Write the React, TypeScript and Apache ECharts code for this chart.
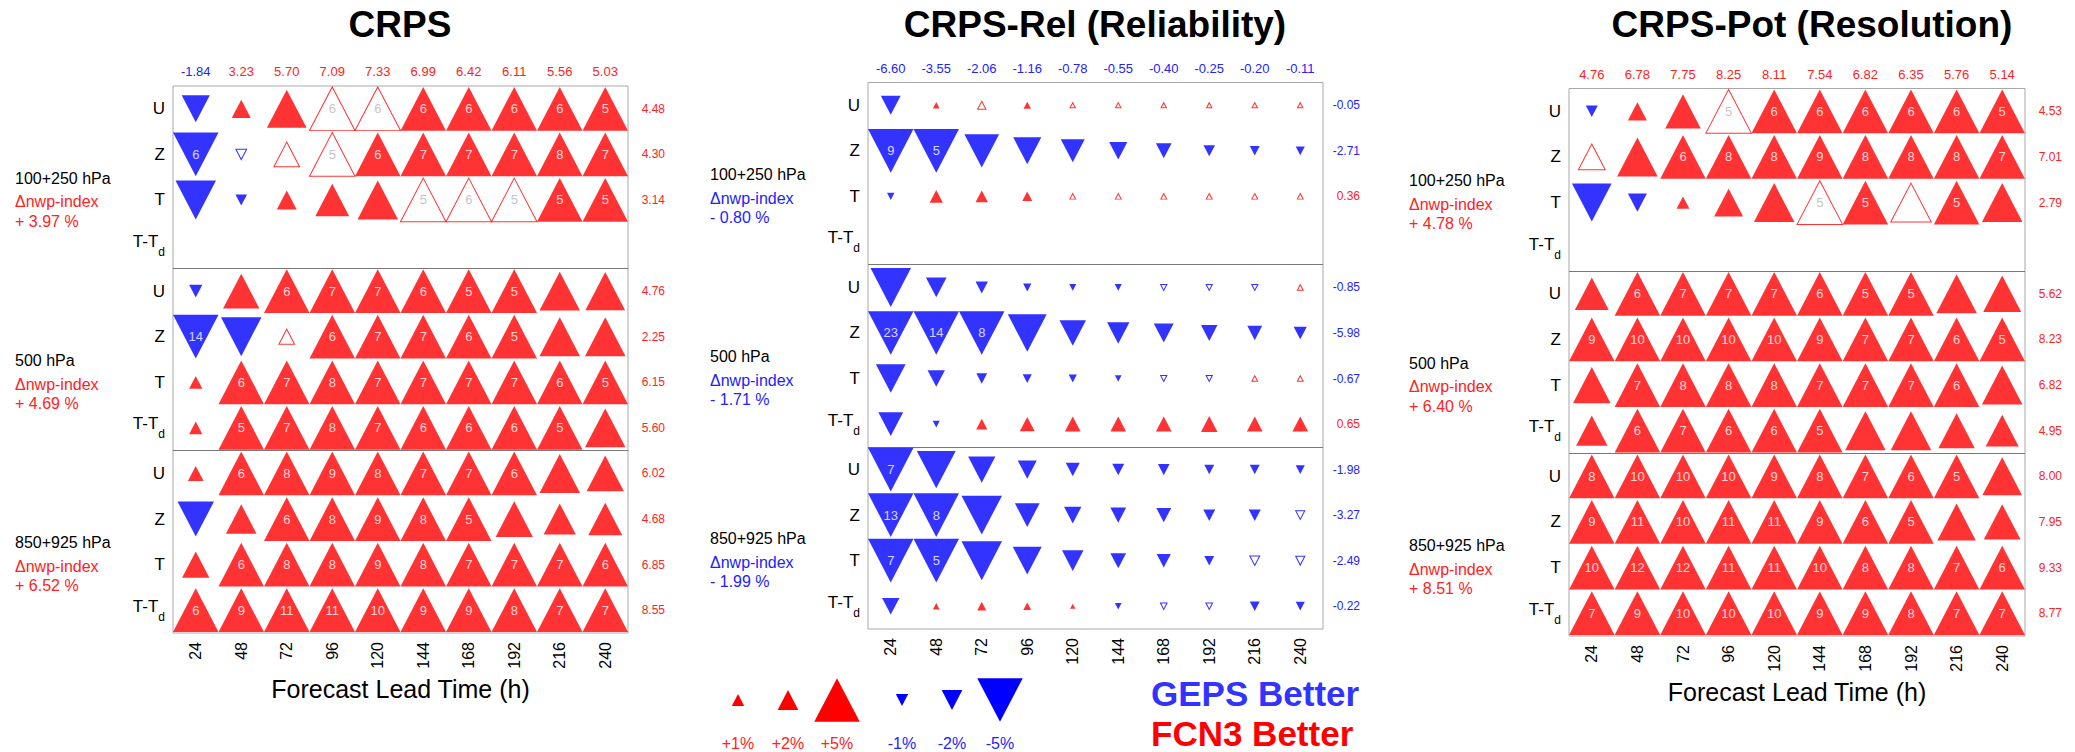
import React, { useEffect, useRef } from 'react';
import * as echarts from 'echarts';

// ---------------- DATA ----------------
const leadTimes = ['24', '48', '72', '96', '120', '144', '168', '192', '216', '240'];
const rowNames = ['U', 'Z', 'T', 'T-Td', 'U', 'Z', 'T', 'T-Td', 'U', 'Z', 'T', 'T-Td'];
const blockNames = ['100+250 hPa', '500 hPa', '850+925 hPa'];

// CRPS
const crpsTop = [-1.84, 3.23, 5.70, 7.09, 7.33, 6.99, 6.42, 6.11, 5.56, 5.03];
const crpsRight = [4.48, 4.30, 3.14, null, 4.76, 2.25, 6.15, 5.60, 6.02, 4.68, 6.85, 8.55];
const crpsIndex = [3.97, 4.69, 6.52];
const crps100_250 = [
  [-2.9, 1.8, 4.3, 6, 6, 6, 6, 6, 6, 5],
  [-6, -0.8, 2.6, 5, 6, 7, 7, 7, 8, 7],
  [-4.4, -0.9, 1.9, 3.6, 4.4, 5, 6, 5, 5, 5],
];
const crps500 = [
  [-1.1, 3.9, 6, 7, 7, 6, 5, 5, 4.4, 4.3],
  [-14, -4.4, 1.4, 6, 7, 7, 6, 5, 4.4, 4.4],
  [1.1, 6, 7, 8, 7, 7, 7, 7, 6, 5],
  [1.1, 5, 7, 8, 7, 6, 6, 6, 5, 4.4],
];
const crps850_925 = [
  [1.4, 6, 8, 9, 8, 7, 7, 6, 4.4, 4.0],
  [-3.9, 3.2, 6, 8, 9, 8, 5, 4.0, 3.4, 3.6],
  [2.8, 6, 8, 8, 9, 8, 7, 7, 7, 6],
  [6, 9, 11, 11, 10, 9, 9, 8, 7, 7],
];
const crpsHollow = [[0, 3], [0, 4], [1, 1], [1, 2], [1, 3], [2, 5], [2, 6], [2, 7], [5, 2]];

// CRPS-Rel
const relTop = [-6.60, -3.55, -2.06, -1.16, -0.78, -0.55, -0.40, -0.25, -0.20, -0.11];
const relRight = [-0.05, -2.71, 0.36, null, -0.85, -5.98, -0.67, 0.65, -1.98, -3.27, -2.49, -0.22];
const relIndex = [-0.80, -1.71, -1.99];
const rel100_250 = [
  [-1.9, 0.3, 0.5, 0.4, 0.15, 0.15, 0.15, 0.15, 0.15, 0.15],
  [-9, -5, -3.7, -2.9, -2.4, -1.7, -1.4, -0.9, -0.7, -0.6],
  [-0.4, 1.1, 1.0, 0.7, 0.2, 0.2, 0.2, 0.2, 0.2, 0.2],
];
const rel500 = [
  [-4.4, -2.0, -1.0, -0.5, -0.35, -0.35, -0.25, -0.25, -0.25, 0.2],
  [-23, -14, -8, -4.2, -2.7, -2.2, -1.9, -1.5, -1.3, -1.1],
  [-3.1, -1.6, -0.8, -0.6, -0.5, -0.3, -0.25, -0.25, 0.2, 0.2],
  [-2.5, -0.35, 0.85, 1.3, 1.4, 1.4, 1.4, 1.5, 1.4, 1.4],
];
const rel850_925 = [
  [-7, -4.2, -2.8, -1.8, -1.2, -0.95, -0.9, -0.7, -0.7, -0.6],
  [-13, -8, -4.4, -2.5, -1.6, -1.4, -1.3, -0.95, -0.95, -0.6],
  [-7, -5, -4.4, -3.0, -2.1, -1.4, -1.2, -0.7, -0.7, -0.6],
  [-1.6, 0.3, 0.6, 0.45, 0.15, -0.3, -0.3, -0.3, -0.7, -0.6],
];
const relHollow = [
  [0, 2], [0, 4], [0, 5], [0, 6], [0, 7], [0, 8], [0, 9],
  [2, 4], [2, 5], [2, 6], [2, 7], [2, 8], [2, 9],
  [4, 6], [4, 7], [4, 8], [4, 9],
  [6, 6], [6, 7], [6, 8], [6, 9],
  [9, 9], [10, 8], [10, 9], [11, 6], [11, 7],
];

// CRPS-Pot
const potTop = [4.76, 6.78, 7.75, 8.25, 8.11, 7.54, 6.82, 6.35, 5.76, 5.14];
const potRight = [4.53, 7.01, 2.79, null, 5.62, 8.23, 6.82, 4.95, 8.00, 7.95, 9.33, 8.77];
const potIndex = [4.78, 6.40, 8.51];
const pot100_250 = [
  [-0.95, 1.8, 3.8, 5, 6, 6, 6, 6, 6, 5],
  [2.75, 4.4, 6, 8, 8, 9, 8, 8, 8, 7],
  [-4.3, -1.8, 1.05, 3.0, 4.4, 5, 5, 4.4, 5, 4.4],
];
const pot500 = [
  [3.6, 6, 7, 7, 7, 6, 5, 5, 4.4, 4.1],
  [9, 10, 10, 10, 10, 9, 7, 7, 6, 5],
  [4.05, 7, 8, 8, 8, 7, 7, 7, 6, 4.4],
  [3.3, 6, 7, 6, 6, 5, 4.4, 4.4, 3.9, 3.5],
];
const pot850_925 = [
  [8, 10, 10, 10, 9, 8, 7, 6, 5, 4.3],
  [9, 11, 10, 11, 11, 9, 6, 5, 4.15, 3.95],
  [10, 12, 12, 11, 11, 10, 8, 8, 7, 6],
  [7, 9, 10, 10, 10, 9, 9, 8, 7, 7],
];
const potHollow = [[0, 3], [1, 0], [2, 5], [2, 7]];

const legendValues = [1, 2, 5, -1, -2, -5];

// ---------------- STYLE / LAYOUT ----------------
const FONT = '"Liberation Sans", Arial, Helvetica, sans-serif';
const RED = '#ff0000';
const BLUE = '#0000ff';
const TEXT_RED = '#ff2222';
const TEXT_BLUE = '#2222ff';
const DOWN = 'path://M0,0L10,0L5,10Z';
const CELL = 45.5;

function triSize(v: number): [number, number] {
  const a = Math.min(Math.abs(v), 5);
  const w = (CELL * (a + 0.5)) / 5.5;
  return [w, w * 0.96];
}
const signColor = (v: number) => (v < 0 ? TEXT_BLUE : TEXT_RED);
const fmtIndex = (v: number) => (v < 0 ? '- ' : '+ ') + Math.abs(v).toFixed(2) + ' %';

const panels = [
  { title: 'CRPS', top: crpsTop, right: crpsRight, index: crpsIndex, blocks: [crps100_250, crps500, crps850_925], hollow: crpsHollow,
    layout: { left: 173, top: 86, width: 455, height: 547, titleX: 400, labelX: 15, axisName: true } },
  { title: 'CRPS-Rel (Reliability)', top: relTop, right: relRight, index: relIndex, blocks: [rel100_250, rel500, rel850_925], hollow: relHollow,
    layout: { left: 868, top: 82.5, width: 455, height: 546.5, titleX: 1095, labelX: 710, axisName: false } },
  { title: 'CRPS-Pot (Resolution)', top: potTop, right: potRight, index: potIndex, blocks: [pot100_250, pot500, pot850_925], hollow: potHollow,
    layout: { left: 1569, top: 88.5, width: 456, height: 547.5, titleX: 1812, labelX: 1409, axisName: true } },
];

function buildOption() {
  const grid: any[] = [];
  const xAxis: any[] = [];
  const yAxis: any[] = [];
  const series: any[] = [];
  const graphic: any[] = [];

  panels.forEach((p, pi) => {
    const L = p.layout;
    grid.push({ left: L.left, top: L.top, width: L.width, height: L.height, show: true, borderColor: '#a8a8a8', borderWidth: 1, backgroundColor: '#fff' });
    xAxis.push({
      type: 'category', gridIndex: pi, position: 'bottom', data: leadTimes,
      axisLine: { show: false }, axisTick: { show: false }, splitLine: { show: false },
      axisLabel: { interval: 0, rotate: 90, margin: 9, fontSize: 16, color: '#000', fontFamily: FONT },
      name: L.axisName ? 'Forecast Lead Time (h)' : '', nameLocation: 'middle', nameGap: 40,
      nameTextStyle: { fontSize: 25, color: '#000', fontFamily: FONT },
    });
    xAxis.push({
      type: 'category', gridIndex: pi, position: 'top', data: p.top.map((v) => v.toFixed(2)),
      axisLine: { show: false }, axisTick: { show: false }, splitLine: { show: false },
      axisLabel: { interval: 0, margin: 8, fontSize: 13, fontFamily: FONT, color: (val: string) => signColor(parseFloat(val)) },
    });
    yAxis.push({
      type: 'category', gridIndex: pi, position: 'left', inverse: true, data: rowNames,
      axisLine: { show: false }, axisTick: { show: false }, splitLine: { show: false },
      axisLabel: {
        interval: 0, margin: 8, fontFamily: FONT,
        formatter: (v: string) => (v === 'T-Td' ? '{mt|T-T}{s|d}' : '{m|' + v + '}'),
        rich: {
          m: { fontSize: 17, color: '#000', fontFamily: FONT },
          mt: { fontSize: 17, color: '#000', fontFamily: FONT, verticalAlign: 'top' },
          s: { fontSize: 12, color: '#000', fontFamily: FONT, verticalAlign: 'top', padding: [13, 0, 0, 0] },
        },
      },
    });
    yAxis.push({
      type: 'category', gridIndex: pi, position: 'right', inverse: true,
      data: p.right.map((v) => (v == null ? '' : v.toFixed(2))),
      axisLine: { show: false }, axisTick: { show: false }, splitLine: { show: false },
      axisLabel: { interval: 0, align: 'right', margin: 37, fontSize: 12, fontFamily: FONT, color: (val: string) => signColor(parseFloat(val)) },
    });
    yAxis.push({
      type: 'value', gridIndex: pi, min: 0, max: 12, interval: 4, inverse: true,
      axisLine: { show: false }, axisTick: { show: false }, axisLabel: { show: false },
      splitLine: { show: true, showMinLine: false, showMaxLine: false, lineStyle: { color: '#777', width: 1 } },
    });

    const rows: (number[] | null)[] = [...p.blocks[0], null, ...p.blocks[1], ...p.blocks[2]];
    const hollowSet = new Set(p.hollow.map(([r, c]) => r * 10 + c));
    const marks: any[] = [];
    const numbers: any[] = [];
    rows.forEach((row, r) => {
      if (!row) return;
      row.forEach((v, c) => {
        const hollow = hollowSet.has(r * 10 + c);
        const col = v < 0 ? BLUE : RED;
        const n = Math.round(Math.abs(v));
        marks.push({
          value: [c, r],
          symbol: v < 0 ? DOWN : 'triangle',
          symbolSize: triSize(v),
          itemStyle: hollow ? { color: '#fff', borderColor: col, borderWidth: 1 } : { color: col, borderWidth: 0 },
        });
        if (n >= 5) {
          numbers.push({
            value: [c, r],
            label: { formatter: String(n), color: hollow ? '#b5b5b5' : '#fff' },
          });
        }
      });
    });
    series.push({
      type: 'scatter', xAxisIndex: pi * 2, yAxisIndex: pi * 3, data: marks, silent: true, z: 2,
    });
    series.push({
      type: 'scatter', xAxisIndex: pi * 2, yAxisIndex: pi * 3, data: numbers, silent: true, z: 3,
      symbol: 'circle', symbolSize: 1, itemStyle: { color: 'rgba(0,0,0,0)' },
      label: { show: true, position: 'inside', fontSize: 13, fontFamily: FONT, lineHeight: 13 },
    });

    // title
    graphic.push({
      type: 'text', x: L.titleX, y: 24,
      style: { text: p.title, fill: '#000', fontSize: 37, fontWeight: 'bold', fontFamily: FONT,
        align: 'center', verticalAlign: 'middle', textAlign: 'center', textVerticalAlign: 'middle' },
    });
    // block labels
    const cellH = L.height / 12;
    blockNames.forEach((bn, b) => {
      const yc = L.top + (b * 4 + 2) * cellH;
      const iv = p.index[b];
      const lines = [
        { t: bn, c: '#000', dy: 1 },
        { t: '\u0394nwp-index', c: signColor(iv), dy: 24.5 },
        { t: fmtIndex(iv), c: signColor(iv), dy: 44 },
      ];
      lines.forEach((ln) => {
        graphic.push({
          type: 'text', x: L.labelX, y: yc + ln.dy,
          style: { text: ln.t, fill: ln.c, fontSize: 16, fontFamily: FONT, lineHeight: 18,
            align: 'left', verticalAlign: 'middle', textAlign: 'left', textVerticalAlign: 'middle' },
        });
      });
    });
  });

  // size legend
  const legX = [738, 788, 837, 902, 952, 1000];
  const legY = 700;
  legendValues.forEach((v, i) => {
    const [w, h] = triSize(v);
    const cx = legX[i];
    const pts = v > 0
      ? [[cx - w / 2, legY + h / 2], [cx + w / 2, legY + h / 2], [cx, legY - h / 2]]
      : [[cx - w / 2, legY - h / 2], [cx + w / 2, legY - h / 2], [cx, legY + h / 2]];
    graphic.push({ type: 'polygon', shape: { points: pts }, style: { fill: v > 0 ? RED : BLUE } });
    graphic.push({
      type: 'text', x: cx, y: 743,
      style: { text: (v > 0 ? '+' : '') + v + '%', fill: signColor(v), fontSize: 16, fontFamily: FONT,
        align: 'center', verticalAlign: 'middle', textAlign: 'center', textVerticalAlign: 'middle' },
    });
  });
  graphic.push({
    type: 'text', x: 1151, y: 693.5,
    style: { text: 'GEPS Better', fill: '#3333ff', fontSize: 35, fontWeight: 'bold', fontFamily: FONT, lineHeight: 32,
      align: 'left', verticalAlign: 'middle', textAlign: 'left', textVerticalAlign: 'middle' },
  });
  graphic.push({
    type: 'text', x: 1151, y: 733.5,
    style: { text: 'FCN3 Better', fill: '#ff0000', fontSize: 35, fontWeight: 'bold', fontFamily: FONT, lineHeight: 32,
      align: 'left', verticalAlign: 'middle', textAlign: 'left', textVerticalAlign: 'middle' },
  });

  return {
    animation: false,
    backgroundColor: '#fff',
    textStyle: { fontFamily: FONT },
    grid, xAxis, yAxis, series, graphic,
  };
}

export default function App() {
  const ref = useRef<HTMLDivElement>(null);
  useEffect(() => {
    if (!ref.current) return;
    const chart = echarts.init(ref.current, undefined, { renderer: 'svg' });
    chart.setOption(buildOption() as any);
    return () => chart.dispose();
  }, []);
  return (
    <div
      ref={ref}
      style={{ position: 'fixed', left: 0, top: 0, width: 2075, height: 752, background: '#fff' }}
    />
  );
}
